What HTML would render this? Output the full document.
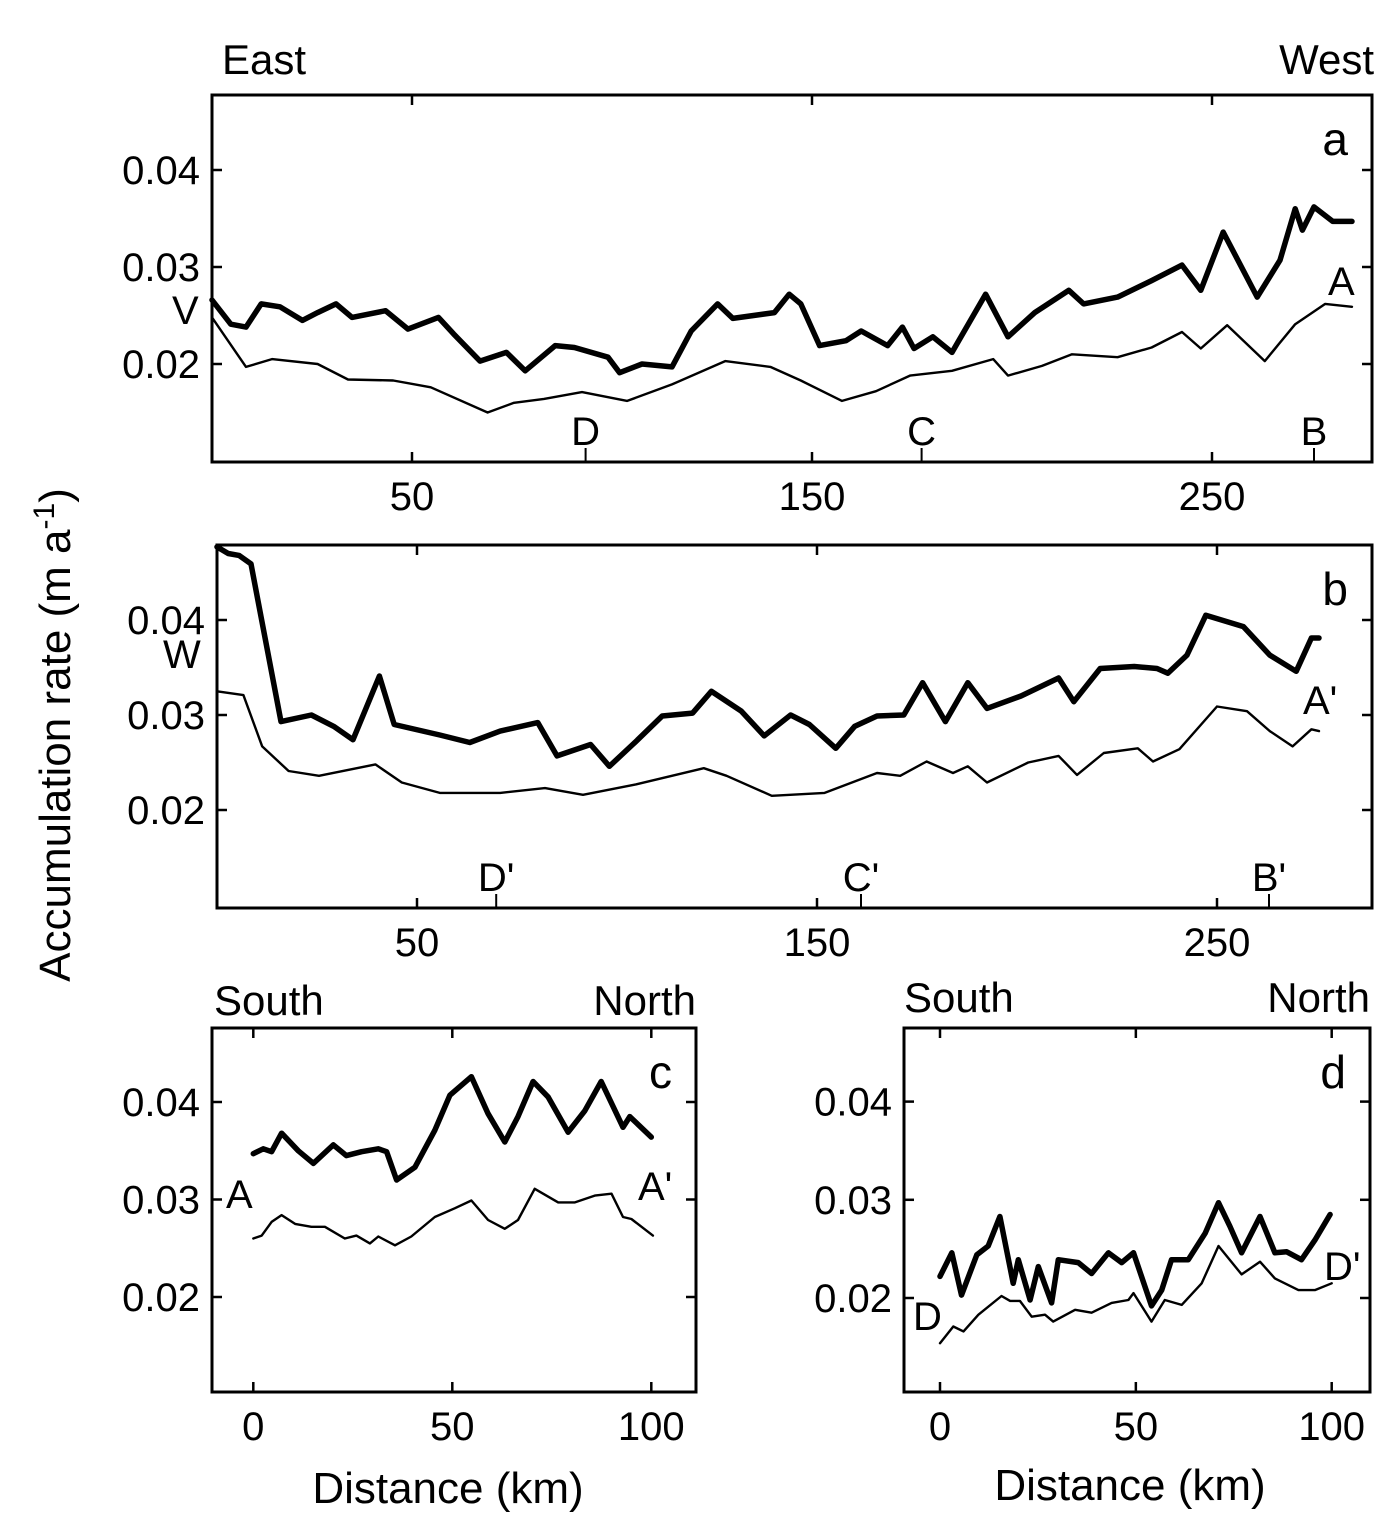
<!DOCTYPE html>
<html><head><meta charset="utf-8"><style>
html,body{margin:0;padding:0;background:#fff;}
svg{display:block;font-family:"Liberation Sans",Arial,sans-serif;}
</style></head><body>
<svg id="chart" width="1400" height="1529" viewBox="0 0 1400 1529" xmlns="http://www.w3.org/2000/svg">
<text x="70" y="735" font-size="44" text-anchor="middle" transform="rotate(-90 70 735)">Accumulation rate (m a<tspan dy="-16" font-size="30">-1</tspan><tspan dy="16">)</tspan></text>
<text x="222" y="74" font-size="42">East</text>
<text x="1374" y="74" font-size="42" text-anchor="end">West</text>
<text x="214" y="1015" font-size="42">South</text>
<text x="696" y="1015" font-size="42" text-anchor="end">North</text>
<text x="904" y="1012" font-size="42">South</text>
<text x="1370" y="1012" font-size="42" text-anchor="end">North</text>
<text x="448" y="1503" font-size="44" text-anchor="middle">Distance (km)</text>
<text x="1130" y="1500" font-size="44" text-anchor="middle">Distance (km)</text>
</svg>
<script>
// ---- data ----
const aThickKm=[0,4.7,8.5,12.3,17,22.6,26.4,31,35,43.4,49,56.6,60.4,67,73.6,78.3,85.8,90.6,99,101.9,107.5,115,119.8,126.4,130.2,140.6,144.3,147.2,151.9,158.5,162.3,168.9,172.6,175.5,180.2,185,193.4,199,205.7,214.2,217.9,226.4,234.9,242.5,247.2,252.8,261.3,267,270.8,272.6,275.5,280.2,285];
const aThickVal=[0.0266,0.0241,0.0238,0.0262,0.0259,0.0245,0.0253,0.0262,0.0248,0.0255,0.0236,0.0248,0.0231,0.0203,0.0212,0.0193,0.0219,0.0217,0.0207,0.0191,0.02,0.0197,0.0234,0.0262,0.0247,0.0253,0.0272,0.0262,0.0219,0.0224,0.0234,0.0219,0.0238,0.0216,0.0228,0.0212,0.0272,0.0228,0.0253,0.0276,0.0262,0.0269,0.0286,0.0302,0.0276,0.0336,0.0269,0.0307,0.036,0.0338,0.0362,0.0347,0.0347];
const aThinKm=[0,8.5,15,26.4,34,45.3,54.7,68.9,75.5,83,92.5,103.8,115,128.3,139.6,147.2,157.5,166,174.5,185,195.3,199,207.5,215,226.4,234.9,242.5,247.2,253.8,263.2,270.8,278.3,285];
const aThinVal=[0.0248,0.0197,0.0205,0.02,0.0184,0.0183,0.0176,0.015,0.016,0.0164,0.0171,0.0162,0.0179,0.0203,0.0197,0.0183,0.0162,0.0172,0.0188,0.0193,0.0205,0.0188,0.0198,0.021,0.0207,0.0217,0.0233,0.0216,0.024,0.0203,0.0241,0.0262,0.0259];
const bThickKm=[0,2.8,5.5,8.5,11.3,16,23.6,29.2,34,40.6,44.3,55.7,63.2,70.8,80.2,85,93.4,98.1,104.7,111.3,118.9,123.6,131.1,136.8,143.4,148.1,154.7,159.4,165,171.7,176.4,182.1,187.7,192.5,201,210.4,214.2,220.8,229.3,235,237.7,242.5,247.2,256.6,263.2,269.8,273.6,275.5];
const bThickVal=[0.0477,0.047,0.0468,0.0459,0.0397,0.0293,0.03,0.0288,0.0274,0.0341,0.029,0.0279,0.0271,0.0283,0.0292,0.0257,0.0269,0.0246,0.0272,0.0299,0.0302,0.0325,0.0304,0.0278,0.03,0.029,0.0265,0.0288,0.0299,0.03,0.0334,0.0293,0.0334,0.0307,0.032,0.0339,0.0314,0.0349,0.0351,0.0349,0.0344,0.0363,0.0405,0.0393,0.0363,0.0346,0.0381,0.0381];
const bThinKm=[0,6.6,11.3,17.9,25.5,39.6,46.2,55.7,70.8,82,91.5,104.7,121.7,127.4,138.7,151.9,165,170.8,177.4,184,187.7,192.5,202.8,210.4,215,221.7,230.2,234,240.6,250,257.5,263.2,268.9,273.6,275.5];
const bThinVal=[0.0325,0.0321,0.0267,0.0241,0.0236,0.0248,0.0229,0.0218,0.0218,0.0223,0.0216,0.0227,0.0244,0.0236,0.0215,0.0218,0.0239,0.0236,0.0251,0.0239,0.0246,0.0229,0.025,0.0257,0.0237,0.026,0.0265,0.0251,0.0264,0.0309,0.0304,0.0283,0.0267,0.0285,0.0283];
const cThickKm=[0,2.5,4.6,7.1,11.3,15.1,20.1,23.4,27.2,31.4,33.5,36,40.6,45.6,49.4,54.8,59,63.2,66.5,70.3,74.1,79.1,83.3,87.4,92.9,94.6,100];
const cThickVal=[0.0347,0.0352,0.0349,0.0368,0.035,0.0337,0.0356,0.0345,0.0349,0.0352,0.0349,0.032,0.0333,0.0371,0.0407,0.0426,0.0388,0.0359,0.0385,0.0421,0.0405,0.0369,0.0391,0.0421,0.0374,0.0385,0.0364];
const cThinKm=[0,2.1,4.6,7.1,10.5,14.6,18,23,25.9,29.3,31.4,35.6,39.7,45.6,50.6,54.8,59,63.2,66.5,70.7,76.6,80.8,85.8,90,92.9,95,100.4];
const cThinVal=[0.026,0.0263,0.0277,0.0284,0.0275,0.0272,0.0272,0.026,0.0263,0.0255,0.0262,0.0253,0.0262,0.0282,0.0291,0.0299,0.0279,0.027,0.0279,0.0311,0.0297,0.0297,0.0304,0.0306,0.0282,0.028,0.0263];
const dThickKm=[0,3,5.5,9.4,12.3,15.3,18.7,20,23,25.1,28.5,30.2,35.3,38.7,43,46.4,49.4,54,56.6,59.1,63.4,67.7,71.1,74,77,81.7,85.5,88.5,92.3,95.7,99.6];
const dThickVal=[0.0222,0.0246,0.0203,0.0244,0.0253,0.0283,0.0215,0.0239,0.0198,0.0232,0.0195,0.0239,0.0236,0.0225,0.0246,0.0236,0.0246,0.0192,0.0208,0.0239,0.0239,0.0266,0.0297,0.0273,0.0246,0.0283,0.0246,0.0247,0.0239,0.0259,0.0285];
const dThinKm=[0,3.4,6,9.8,15.7,17.9,20.4,23.4,26.8,28.9,34.5,38.7,43.8,48.1,49.4,54,57.4,61.7,66.8,71.1,77,81.7,85.5,91.5,95.7,100];
const dThinVal=[0.0154,0.0171,0.0166,0.0183,0.0202,0.0197,0.0197,0.0181,0.0183,0.0176,0.0188,0.0185,0.0195,0.0198,0.0205,0.0176,0.0198,0.0193,0.0215,0.0253,0.0224,0.0237,0.022,0.0208,0.0208,0.0215];
const yTickVals=[0.02,0.03,0.04];
const yTickLabels=["0.02","0.03","0.04"];
const abXTicks=[50,150,250];
const cdXTicks=[0,50,100];
const aMarkers=[["D",93.4],["C",177.4],["B",275.5]];
const bMarkers=[["D'",69.8],["C'",161],["B'",263]];

const NS="http://www.w3.org/2000/svg";
const svg=document.getElementById('chart');
function mk(tag,attrs,parent){const e=document.createElementNS(NS,tag);for(const k in attrs)e.setAttribute(k,attrs[k]);(parent||svg).appendChild(e);return e;}

function panel(p){
  const g=mk('g',{});
  
  
  const sx=v=>p.x0+(v-p.k0)*p.kpx;
  const sy=v=>p.y02-(v-0.02)*p.vpx;
  const r=mk('rect',{x:p.L,y:p.T,width:p.R-p.L,height:p.B-p.T,fill:'none',stroke:'#000','stroke-width':3},g);
  
  
  yTickVals.forEach((v,i)=>{
    const y=sy(v);
    mk('line',{x1:p.L,x2:p.L+10,y1:y,y2:y,stroke:'#000','stroke-width':2.5},g);
    mk('line',{x1:p.R,x2:p.R-10,y1:y,y2:y,stroke:'#000','stroke-width':2.5},g);
    const t=mk('text',{x:p.L-12,y:y+14,'font-size':40,'text-anchor':'end'},g);
    t.textContent=yTickLabels[i];
    
    
  });
  p.xt.forEach(v=>{
    const x=sx(v);
    mk('line',{x1:x,x2:x,y1:p.B,y2:p.B-10,stroke:'#000','stroke-width':2.5},g);
    mk('line',{x1:x,x2:x,y1:p.T,y2:p.T+10,stroke:'#000','stroke-width':2.5},g);
    const t=mk('text',{x:x,y:p.B+48,'font-size':40,'text-anchor':'middle'},g);
    t.textContent=String(v);
    
    
  });
  const line=(ks,vs,w,name)=>{
    const d=ks.map((k,i)=>(i?'L':'M')+sx(k).toFixed(1)+' '+sy(vs[i]).toFixed(1)).join(' ');
    const e=mk('path',{d:d,fill:'none',stroke:'#000','stroke-width':w,'stroke-linejoin':'round','stroke-linecap':'round'},g);
    
    
  };
  line(p.thinK,p.thinV,2.4,'series-thin-'+p.id);
  line(p.thickK,p.thickV,5.5,'series-thick-'+p.id);
  (p.markers||[]).forEach(m=>{
    const x=sx(m[1]);
    mk('line',{x1:x,x2:x,y1:p.B,y2:p.B-14,stroke:'#000','stroke-width':2},g);
    const t=mk('text',{x:x,y:p.B-17,'font-size':40,'text-anchor':'middle'},g);
    t.textContent=m[0];
    
    
  });
  const pl=mk('text',{x:p.R-24,y:p.T+60,'font-size':46,'text-anchor':'end'},g);
  pl.textContent=p.id;
  
  
  (p.labels||[]).forEach(l=>{
    const t=mk('text',{x:l[1],y:l[2],'font-size':40,'text-anchor':l[3]||'start'},g);
    t.textContent=l[0];
    
    
  });
}
panel({id:'a',L:212,R:1372,T:95,B:462,x0:212,k0:0,kpx:4,y02:364,vpx:9700,xt:abXTicks,
  thickK:aThickKm,thickV:aThickVal,thinK:aThinKm,thinV:aThinVal,markers:aMarkers,
  labels:[["V",172,324],["A",1328,295]]});
panel({id:'b',L:217,R:1372,T:545,B:908,x0:217,k0:0,kpx:4,y02:810,vpx:9500,xt:abXTicks,
  thickK:bThickKm,thickV:bThickVal,thinK:bThinKm,thinV:bThinVal,markers:bMarkers,
  labels:[["W",163,668],["A'",1303,714]]});
panel({id:'c',L:212,R:696,T:1028,B:1392,x0:253.3,k0:0,kpx:3.98,y02:1297,vpx:9750,xt:cdXTicks,
  thickK:cThickKm,thickV:cThickVal,thinK:cThinKm,thinV:cThinVal,
  labels:[["A",226,1208],["A'",638,1200]]});
panel({id:'d',L:904,R:1370,T:1028,B:1392,x0:940,k0:0,kpx:3.917,y02:1298,vpx:9820,xt:cdXTicks,
  thickK:dThickKm,thickV:dThickVal,thinK:dThinKm,thinV:dThinVal,
  labels:[["D",913,1330],["D'",1324,1280]]});
</script>
</body></html>
